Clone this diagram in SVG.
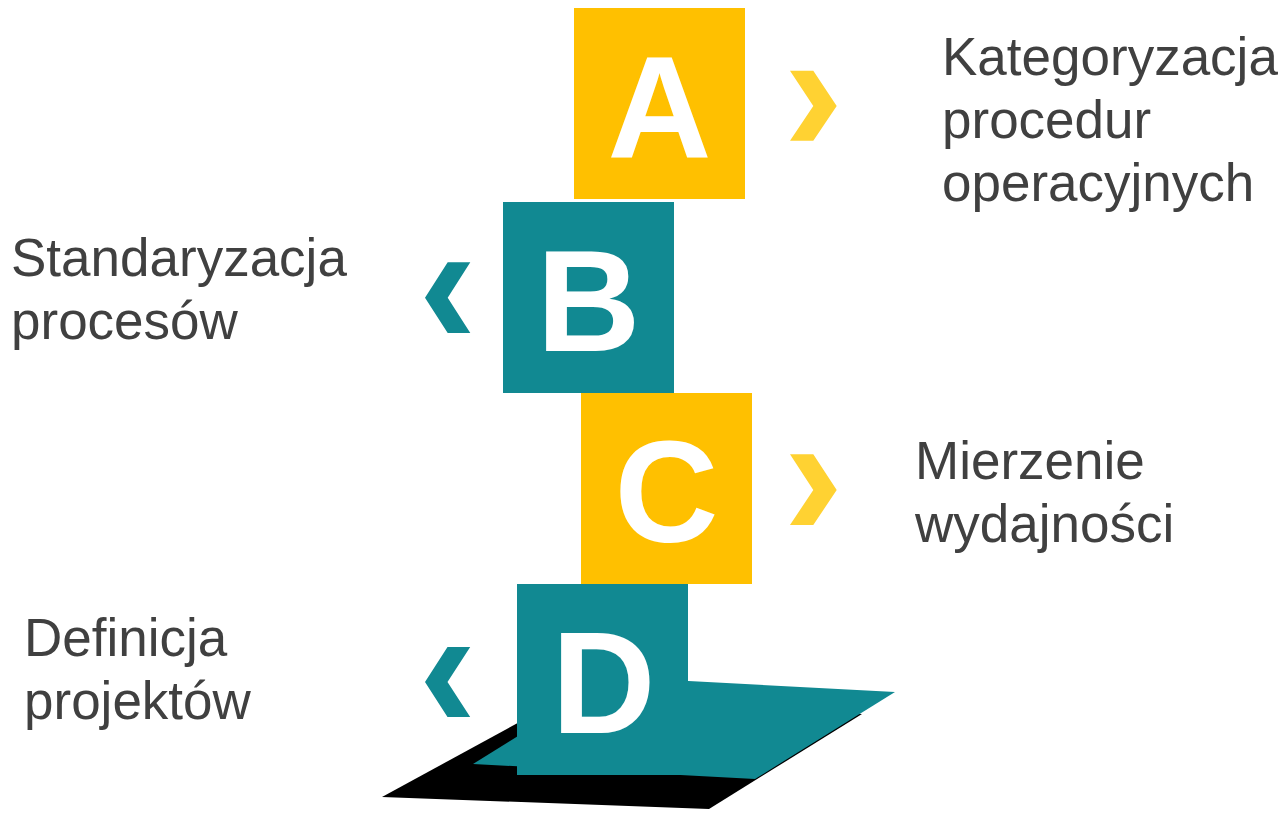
<svg xmlns="http://www.w3.org/2000/svg" width="1282" height="814" viewBox="0 0 1282 814">
  <style>
    .yel { fill: #FFC000; }
    .teal { fill: #118992; }
    .chy { fill: #FFD232; }
    .cht { fill: #118992; }
    .letter { font-family: "Liberation Sans", Arial, sans-serif; font-weight: bold; font-size: 144px; fill: #FFFFFF; text-anchor: middle; }
    .label { font-family: "Liberation Sans", Arial, sans-serif; font-size: 53px; fill: #404040; }
  </style>
  <rect width="1282" height="814" fill="#FFFFFF"/>

  <g id="platform">
    <polygon points="382,797 709,809 862,714 560,700" fill="#000000"/>
    <polygon points="613,677 895,692 755,779 473,764" class="teal"/>
  </g>

  <g id="step-a">
    <rect x="574" y="8" width="171" height="191" class="yel"/>
    <text x="659.5" y="157" class="letter">A</text>
    <polygon points="790,70.7 813.3,70.7 836.7,106 813.3,140.7 790,140.7 813.3,106" class="chy"/>
    <text class="label"><tspan x="942" y="75">Kategoryzacja</tspan><tspan x="942" y="138">procedur</tspan><tspan x="942" y="201">operacyjnych</tspan></text>
  </g>

  <g id="step-b">
    <rect x="503" y="202" width="171" height="191" class="teal"/>
    <text x="588.5" y="351" class="letter">B</text>
    <polygon points="447.7,262.3 470.3,262.3 447.7,297.7 470.3,333 447.7,333 425,297.7" class="cht"/>
    <text class="label"><tspan x="11" y="276">Standaryzacja</tspan><tspan x="11" y="339">procesów</tspan></text>
  </g>

  <g id="step-c">
    <rect x="581" y="393" width="171" height="191" class="yel"/>
    <text x="666.5" y="542" class="letter">C</text>
    <polygon points="790,454.3 813.3,454.3 836.7,490 813.3,525 790,525 813.3,490" class="chy"/>
    <text class="label"><tspan x="915" y="479">Mierzenie</tspan><tspan x="915" y="542">wydajności</tspan></text>
  </g>

  <g id="step-d">
    <rect x="517" y="584" width="171" height="191" class="teal"/>
    <text x="603.5" y="733" class="letter">D</text>
    <polygon points="447.5,647 470.2,647 447.5,682 470.2,717 447.5,717 425,682" class="cht"/>
    <text class="label"><tspan x="24" y="656">Definicja</tspan><tspan x="24" y="719">projektów</tspan></text>
  </g>

  <g id="connectors"></g>
</svg>
